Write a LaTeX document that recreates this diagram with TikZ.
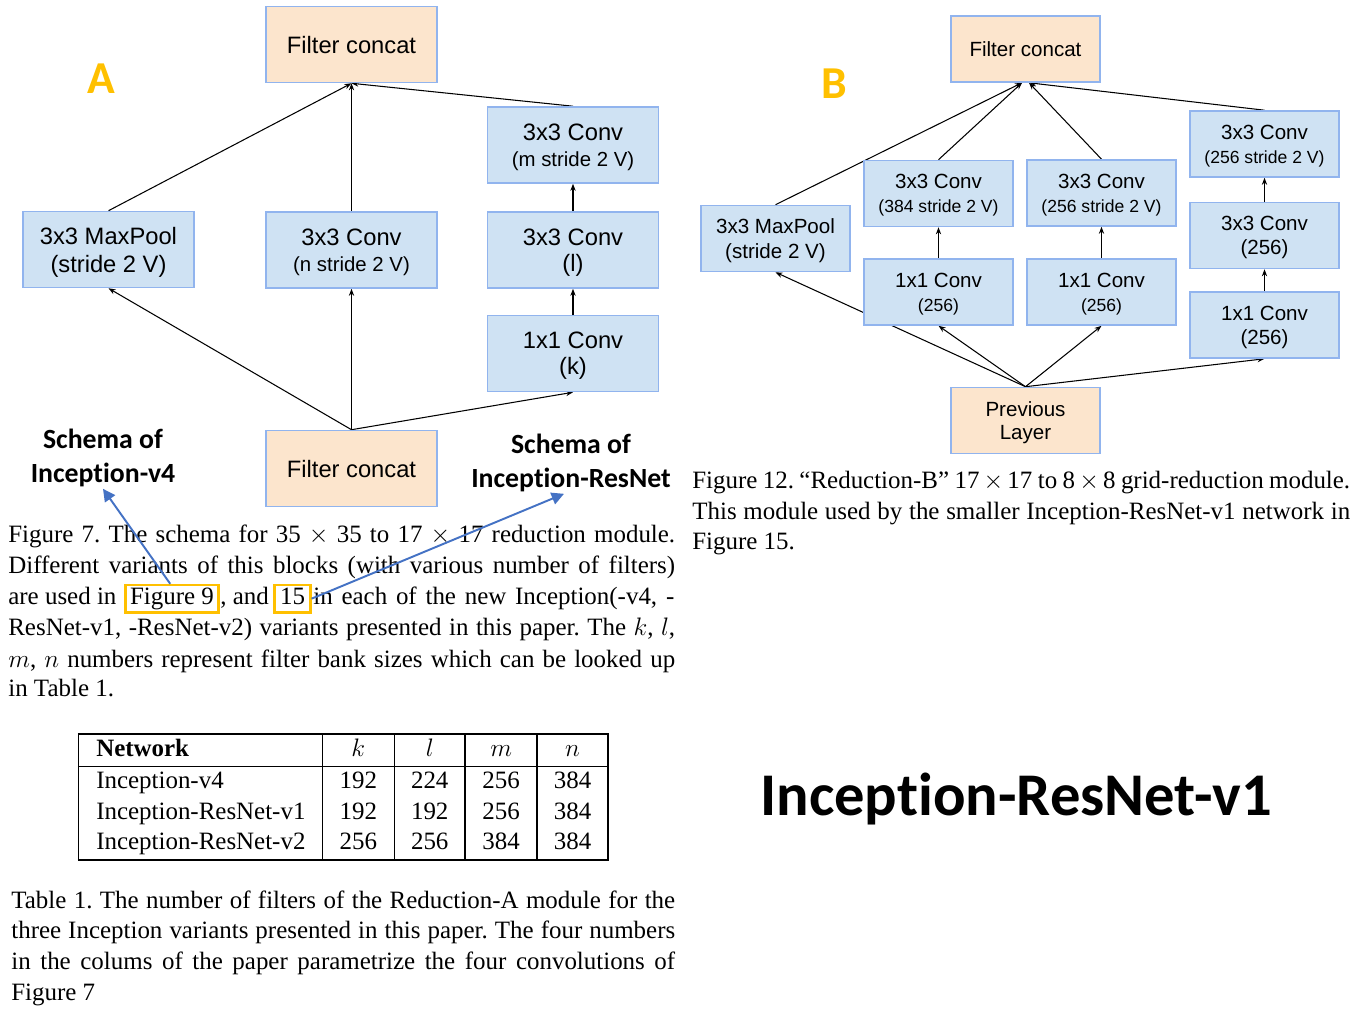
\documentclass[tikz,border=0pt]{standalone}
\usepackage{fontspec}
\setmainfont{Liberation Serif}
\newfontfamily\arialfont{Liberation Sans}
\newfontfamily\calibfont[Ligatures=NoCommon]{Carlito}
\usepackage{array}
\usetikzlibrary{arrows.meta,backgrounds,positioning}
\frenchspacing

\definecolor{convfill}{RGB}{207,226,243}
\definecolor{concatfill}{RGB}{252,229,205}
\definecolor{boxline}{RGB}{145,180,238}
\definecolor{tagyellow}{RGB}{255,192,0}
\definecolor{linkblue}{RGB}{68,114,196}

\newcommand\capfont{\fontsize{14.2pt}{17.5pt}\selectfont}
\newcommand\smallA{\fontsize{11.6pt}{13pt}\selectfont}
\newcommand\smallB{\fontsize{10pt}{12pt}\selectfont}
\newcommand\jline[2]{\makebox[#1][s]{#2}}

\begin{document}
\begin{tikzpicture}[x=0.02cm, y=-0.02cm,
  arr/.style={-{Stealth[length=4pt,width=3pt]}, black, line width=0.6pt},
  linkarr/.style={-{Triangle[length=7pt,width=7pt]}, linkblue, line width=1.1pt},
  convA/.style={draw=boxline, fill=convfill, line width=0.9pt,
                minimum width=3.42cm, minimum height=1.52cm, inner sep=0pt,
                text depth=0pt, align=center,
                font=\arialfont\fontsize{13.5pt}{15pt}\selectfont},
  catA/.style={convA, fill=concatfill},
  convB/.style={draw=boxline, fill=convfill, line width=0.9pt,
                minimum width=2.98cm, minimum height=1.32cm, inner sep=0pt,
                text depth=0pt, align=center,
                font=\arialfont\fontsize{11.7pt}{13.5pt}\selectfont},
  catB/.style={convB, fill=concatfill},
  panel/.style={anchor=base, text=tagyellow,
                font=\calibfont\bfseries\fontsize{26pt}{30pt}\selectfont},
  schema/.style={align=center, inner sep=1pt,
                 font=\calibfont\bfseries\fontsize{15.8pt}{19.1pt}\selectfont},
  captxt/.style={anchor=base west, inner sep=0pt, font=\capfont},
  refbox/.style={draw=tagyellow, line width=1.5pt, anchor=base, font=\capfont,
                 text height=10.5pt, text depth=3.3pt, inner ysep=0.8pt},
]
\useasboundingbox (0,0) rectangle (1357,1020);

%% ═══ A: reduction module of Figure 7 ═════════════════════════════
\node[catA] (catTopA) at (351.5,44.5) {Filter concat};
\node[panel] (tagA) at (101.5,94) {A};
\node[convA] (poolA) at (108.5,249.5) {3x3 MaxPool\\[1pt](stride 2 V)};
\node[convA] (convN) at (351.5,250) {3x3 Conv\\{\smallA(n stride 2 V)}};
\node[convA] (convM) at (573,145) {3x3 Conv\\{\smallA(m stride 2 V)}};
\node[convA] (convL) at (573,250) {3x3 Conv\\(l)};
\node[convA] (convK) at (573,353.5) {1x1 Conv\\(k)};
\node[catA] (catBotA) at (351.5,468.5) {Filter concat};

%% ═══ B: Reduction-B of Figure 12 ═════════════════════════════════
\node[catB] (catTopB) at (1025.5,49) {Filter concat};
\node[panel] (tagB) at (834.5,99) {B};
\node[convB] (poolB) at (775.5,238.5) {3x3 MaxPool\\[1pt](stride 2 V)};
\node[convB] (conv384) at (938.5,193.5) {3x3 Conv\\{\smallB(384 stride 2 V)}};
\node[convB] (conv256a) at (1101.5,193) {3x3 Conv\\{\smallB(256 stride 2 V)}};
\node[convB] (conv1a) at (938.5,292) {1x1 Conv\\{\smallB(256)}};
\node[convB] (conv1b) at (1101.5,292) {1x1 Conv\\{\smallB(256)}};
\node[convB] (conv256s) at (1264.5,144) {3x3 Conv\\{\smallB(256 stride 2 V)}};
\node[convB] (conv256m) at (1264.5,235.5) {3x3 Conv\\(256)};
\node[convB] (conv1c) at (1264.5,325) {1x1 Conv\\(256)};
\node[catB] (prevB) at (1025.5,420.5) {Previous\\Layer};

%% connectors behind the boxes
\begin{pgfonlayer}{background}
  \draw[arr] (catBotA.north) -- (poolA.south);
  \draw[arr] (catBotA.north) -- (convN.south);
  \draw[arr] (catBotA.north) -- (convK.south);
  \draw[arr] (convK) -- (convL);
  \draw[arr] (convL) -- (convM);
  \draw[arr] (poolA.north) -- (catTopA.south);
  \draw[arr] (convN.north) -- (catTopA.south);
  \draw[arr] (convM.north) -- (catTopA.south);

  \draw[arr] (prevB.north) -- (poolB.south);
  \draw[arr] (prevB.north) -- (conv1a.south);
  \draw[arr] (prevB.north) -- (conv1b.south);
  \draw[arr] (prevB.north) -- (conv1c.south);
  \draw[arr] (conv1a) -- (conv384);
  \draw[arr] (conv1b) -- (conv256a);
  \draw[arr] (conv1c) -- (conv256m);
  \draw[arr] (conv256m) -- (conv256s);
  \draw[arr] (poolB.north) -- ([xshift=-2pt]catTopB.south);
  \draw[arr] (conv384.north) -- ([xshift=-2pt]catTopB.south);
  \draw[arr] (conv256a.north) -- ([xshift=2pt]catTopB.south);
  \draw[arr] (conv256s.north) -- ([xshift=2pt]catTopB.south);
\end{pgfonlayer}

%% ═══ notes ═══════════════════════════════════════════════════════
\node[schema] (schemaV4) at (103,458) {Schema of\\Inception-v4};
\node[schema] (schemaRes) at (571,463) {Schema of\\Inception-ResNet};

%% caption of Figure 7
\node[captxt] (capA1) at (8,543) {\jline{13.34cm}{Figure 7. The schema for 35 $\times$ 35 to 17 $\times$ 17 reduction module.}};
\node[captxt] (capA2) at (8,574) {\jline{13.34cm}{Different variants of this blocks (with various number of filters)}};
\node[captxt] (capA3) at (8,605) {are used in};
\node[refbox, inner xsep=2.5pt] (fig9) at (172,605) {Figure 9};
\node[captxt] (capA3b) at (220,605) {, and};
\node[refbox, inner xsep=3pt] (ref15) at (292.5,605) {15};
\node[captxt] (capA3c) at (313,605) {\jline{7.22cm}{in each of the new Inception(-v4, -}};
\node[captxt] (capA4) at (8,636) {\jline{13.34cm}{ResNet-v1, -ResNet-v2) variants presented in this paper. The $k$, $l$,}};
\node[captxt] (capA5) at (8,667) {\jline{13.34cm}{$m$, $n$ numbers represent filter bank sizes which can be looked up}};
\node[captxt] (capA6) at (8,697) {in Table 1.};

\draw[linkarr] ([xshift=-1pt]fig9.north) -- (schemaV4.south);
\draw[linkarr] (ref15.east) -- ([xshift=-4pt]schemaRes.south);

%% Table 1
\node[anchor=north west, inner sep=0pt, font=\capfont] (tbl) at (77.5,733)
  {\setlength\tabcolsep{0pt}\setlength\arrayrulewidth{0.8pt}%
   \begin{tabular}{|>{\hspace{3.4mm}}p{48.5mm}|>{\centering\arraybackslash}p{14.1mm}|>{\centering\arraybackslash}p{13.9mm}|>{\centering\arraybackslash}p{14.1mm}|>{\centering\arraybackslash}p{13.9mm}|}
     \hline
     \textbf{Network} & $k$ & $l$ & $m$ & $n$ \\
     \hline
     Inception-v4 & 192 & 224 & 256 & 384 \\
     Inception-ResNet-v1 & 192 & 192 & 256 & 384 \\
     Inception-ResNet-v2 & 256 & 256 & 384 & 384 \\
     \hline
   \end{tabular}};

%% caption of Table 1
\node[captxt] (capT1) at (11,908) {\jline{13.28cm}{Table 1. The number of filters of the Reduction-A module for the}};
\node[captxt] (capT2) at (11,938) {\jline{13.28cm}{three Inception variants presented in this paper. The four numbers}};
\node[captxt] (capT3) at (11,969) {\jline{13.28cm}{in the colums of the paper parametrize the four convolutions of}};
\node[captxt] (capT4) at (11,1000) {Figure 7};

%% caption of Figure 12
\node[captxt] (capB1) at (692,489) {\jline{13.16cm}{Figure 12. ``Reduction-B'' 17\,$\times$\,17 to 8\,$\times$\,8 grid-reduction module.}};
\node[captxt] (capB2) at (692,520) {\jline{13.16cm}{This module used by the smaller Inception-ResNet-v1 network in}};
\node[captxt] (capB3) at (692,550) {Figure 15.};

\node[anchor=base, font=\calibfont\bfseries\fontsize{34.5pt}{40pt}\selectfont]
  (title) at (1016,815) {Inception-ResNet-v1};

\end{tikzpicture}
\end{document}
